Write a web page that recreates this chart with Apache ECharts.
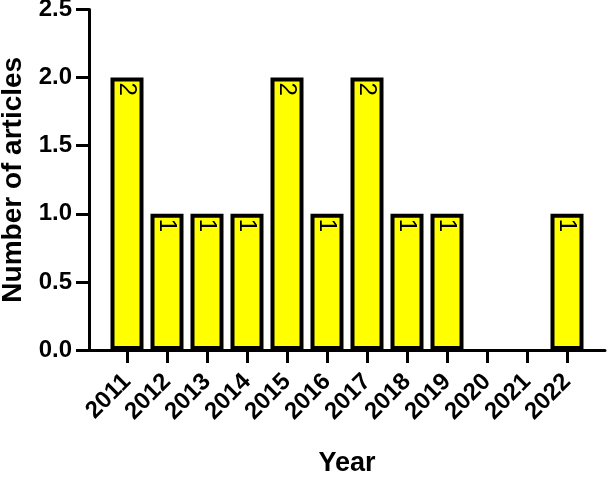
<!DOCTYPE html>
<html>
<head>
	<meta charset="UTF-8">
	<title>Number of articles</title>
	<script src="https://cdn.jsdelivr.net/npm/echarts@6/dist/echarts.min.js"></script>
	<style>
		html, body { margin: 0; padding: 0; background: #fff; }
		#chart { width: 609px; height: 477px; }
	</style>
</head>
<body>
	<div id="chart"></div>
	<script>
		// 数据
		var years = ['2011', '2012', '2013', '2014', '2015', '2016', '2017', '2018', '2019', '2020', '2021', '2022'];
		var articles = [2, 1, 1, 1, 2, 1, 2, 1, 1, 0, 0, 1];
		var yTicks = [0, 0.5, 1, 1.5, 2, 2.5];

		var fontFam = 'Liberation Sans, Arial, sans-serif';
		var chart = echarts.init(document.getElementById('chart'));

		// 0值的柱子不画边框
		var barData = articles.map(function (v) {
			if (v === 0) {
				return { value: v, itemStyle: { borderWidth: 0, color: 'transparent' } };
			}
			return v;
		});

		var option = {
			animation: false,
			grid: [
				{ left: 107, right: 22, top: 9.5, bottom: 127, outerBoundsMode: 'none', containLabel: false },
				// 只用来画延长的x轴线
				{ left: 89, right: 4, top: 9.5, bottom: 127, outerBoundsMode: 'none', containLabel: false }
			],
			xAxis: [{
				type: 'category',
				gridIndex: 0,
				data: years,
				name: 'Year',
				nameLocation: 'middle',
				nameGap: 100,
				nameTextStyle: { color: '#000', fontSize: 27, fontWeight: 'bold', fontFamily: fontFam },
				axisLine: { show: false },
				axisTick: { show: true, alignWithLabel: true, length: 13, lineStyle: { color: '#000', width: 3 } },
				axisLabel: {
					interval: 0,
					rotate: 45,
					margin: 28,
					color: '#000',
					fontSize: 24,
					fontWeight: 'bold',
					fontFamily: fontFam
				},
				splitLine: { show: false }
			}, {
				type: 'category',
				gridIndex: 1,
				data: [''],
				axisLine: { show: true, lineStyle: { color: '#000', width: 3 } },
				axisTick: { show: false },
				axisLabel: { show: false }
			}],
			yAxis: [{
				type: 'value',
				gridIndex: 0,
				min: 0,
				max: 2.5,
				interval: 0.5,
				offset: 18,
				name: 'Number of articles',
				nameLocation: 'middle',
				nameGap: 59,
				nameTextStyle: { color: '#000', fontSize: 28, fontWeight: 'bold', fontFamily: fontFam },
				axisLine: { show: true, lineStyle: { color: '#000', width: 3 } },
				axisTick: { show: true, length: 13, lineStyle: { color: '#000', width: 3 } },
				axisLabel: {
					margin: 17,
					color: '#000',
					fontSize: 24,
					fontWeight: 'bold',
					fontFamily: fontFam,
					formatter: function (v) {
						return yTicks.indexOf(v) >= 0 ? v.toFixed(1) : '';
					}
				},
				splitLine: { show: false }
			}, {
				type: 'value',
				gridIndex: 1,
				min: 0,
				max: 2.5,
				show: false
			}],
			series: [{
				type: 'bar',
				xAxisIndex: 0,
				yAxisIndex: 0,
				barWidth: 33,
				data: barData,
				itemStyle: {
					color: '#ffff00',
					borderColor: '#000',
					borderWidth: 4
				},
				label: {
					show: true,
					position: 'insideTop',
					rotate: -90,
					align: 'left',
					verticalAlign: 'middle',
					distance: 5,
					color: '#000',
					fontSize: 24,
					fontFamily: fontFam,
					formatter: function (p) {
						return p.value > 0 ? String(p.value) : '';
					}
				}
			}]
		};
		chart.setOption(option);
	</script>
</body>
</html>
